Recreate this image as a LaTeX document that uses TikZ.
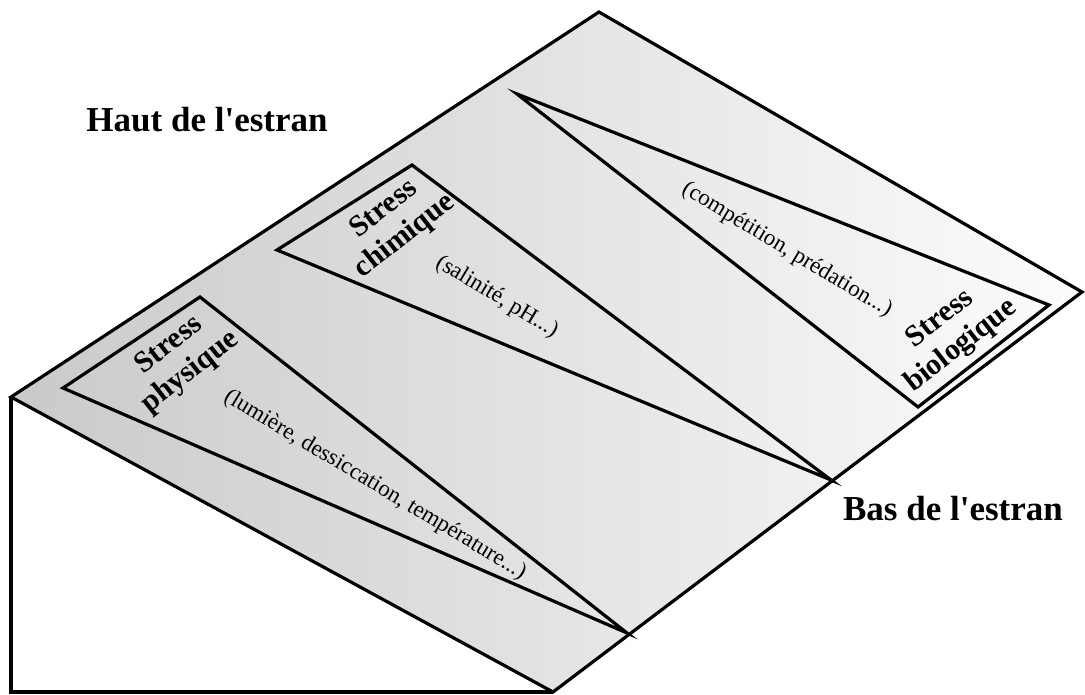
\documentclass[tikz,border=0pt]{standalone}
\usepackage{fontspec}
\setmainfont{Liberation Serif}[Ligatures=TeXOff]
\begin{document}
\begin{tikzpicture}[x={(1pt,0)},y={(0,-1pt)},
  edge/.style={draw=black,line width=3.2pt},
  bigtitle/.style={font=\fontsize{35}{40}\selectfont\bfseries,inner sep=0pt,anchor=base},
  stresslabel/.style={font=\fontsize{30}{34}\selectfont\bfseries,align=center,inner sep=0pt,rotate=38},
  subtext/.style={font=\fontsize{23}{27}\selectfont,inner sep=0pt,rotate=-31}]
\useasboundingbox (0,0) rectangle (1085,695);
% corners of the slope
\coordinate (L) at (11,397);
\coordinate (T) at (599,12);
\coordinate (R) at (1082,292);
\coordinate (B) at (553,692);
\coordinate (BL) at (11,692);
% top face
\shade[left color=black!21,right color=black!1] (L) -- (T) -- (R) -- (B) -- cycle;
\draw[edge] (L) -- (T) -- (R) -- (B) -- cycle;
\draw[edge] (L) -- (BL) -- (B);
% triangles
\coordinate (P1) at (63,388);
\coordinate (P2) at (200,297);
\coordinate (P3) at (627,633);
\coordinate (C1) at (277,250);
\coordinate (C2) at (412,165);
\coordinate (C3) at (831,480);
\coordinate (G1) at (517,94);
\coordinate (G2) at (1049,305);
\coordinate (G3) at (918,407);
\draw[edge] (P1) -- (P2) -- (P3) -- cycle;
\draw[edge] (C1) -- (C2) -- (C3) -- cycle;
\draw[edge] (G1) -- (G2) -- (G3) -- cycle;
% titles
\node[bigtitle] (haut) at (207,132) {Haut de l'estran};
\node[bigtitle] (bas) at (953,520) {Bas de l'estran};
% stress labels
\node[stresslabel] (phys) at (180,359) {Stress\\physique};
\node[stresslabel] (chim) at (395,223) {Stress\\chimique};
\node[stresslabel] (bio) at (951,333) {Stress\\biologique};
% sub texts
\node[subtext] (physd) at (375,485) {(lumière, dessiccation, température...)};
\node[subtext] (chimd) at (497,297) {(salinité, pH...)};
\node[subtext] (biod) at (787,250) {(compétition, prédation...)};
\end{tikzpicture}
\end{document}
